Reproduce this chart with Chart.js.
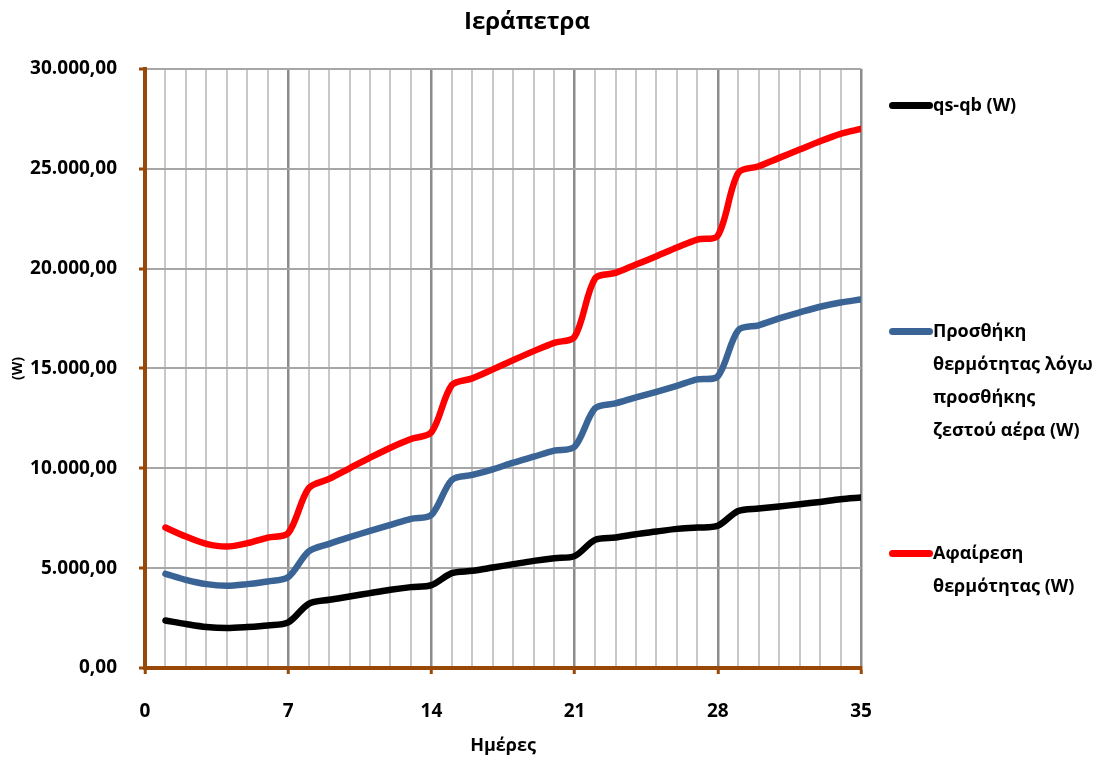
<!DOCTYPE html>
<html>
<head>
<meta charset="utf-8">
<script src="https://cdn.jsdelivr.net/npm/chart.js@4"></script>
<style>
  body { margin: 0; background: #fff; }
  #wrap { position: relative; width: 1099px; height: 762px; }
  #legend { position: absolute; left: 0; top: 0; font-family: "Open Sans", sans-serif; font-weight: bold; font-size: 18px; color: #000; }
  .item { position: absolute; left: 889px; }
  .sw { position: absolute; left: 0; top: 14px; width: 44px; height: 7px; border-radius: 3.5px; }
  .txt { position: absolute; left: 44px; top: 0; line-height: 33px; white-space: nowrap; }
</style>
</head>
<body>
<div id="wrap">
  <canvas id="chart" width="1099" height="762"></canvas>
  <div id="legend"></div>
</div>
<script>
// days on the x axis
var days = [1, 2, 3, 4, 5, 6, 7, 8, 9, 10, 11, 12, 13, 14, 15, 16, 17, 18,
            19, 20, 21, 22, 23, 24, 25, 26, 27, 28, 29, 30, 31, 32, 33, 34, 35];

// qs-qb (W)
var qsqb = [2380, 2200, 2050, 2000, 2050, 2130, 2280,
            3215, 3415, 3580, 3750, 3915, 4050, 4150,
            4750, 4865, 5030, 5200, 5365, 5500, 5600,
            6415, 6530, 6700, 6830, 6965, 7030, 7120,
            7865, 7985, 8085, 8200, 8315, 8450, 8535];

// Προσθήκη θερμότητας λόγω προσθήκης ζεστού αέρα (W)
var hotAir = [4715, 4415, 4200, 4115, 4200, 4330, 4550,
              5830, 6215, 6550, 6865, 7165, 7465, 7665,
              9415, 9665, 9950, 10280, 10580, 10880, 11080,
              13000, 13250, 13550, 13830, 14130, 14450, 14600,
              16910, 17160, 17500, 17800, 18085, 18300, 18450];

// Αφαίρεση θερμότητας (W)
var removal = [7030, 6580, 6215, 6080, 6250, 6530, 6750,
               9000, 9465, 10000, 10530, 11030, 11465, 11800,
               14165, 14500, 14950, 15415, 15865, 16280, 16580,
               19500, 19780, 20200, 20615, 21050, 21450, 21650,
               24785, 25120, 25540, 25955, 26375, 26745, 26995];

var seriesNames = [
    ['qs-qb (W)'],
    ['Προσθήκη', 'θερμότητας λόγω', 'προσθήκης', 'ζεστού αέρα (W)'],
    ['Αφαίρεση', 'θερμότητας (W)']
];
var seriesColors = ['#000000', '#3a6496', '#ff0000'];
var legendTops = [88, 314, 536];

var brown = '#984807';
var tickFont = { family: 'Open Sans', weight: 'bold', size: 19 };

function toPoints(xs, ys) {
    return xs.map((x, i) => ({ x: x, y: ys[i] }));
}

function fmtValue(v) {
    let s = Math.round(v).toString().replace(/\B(?=(\d{3})+(?!\d))/g, '.');
    return s + ',00';
}

const ctx = document.getElementById('chart');
const allSeries = [qsqb, hotAir, removal];

new Chart(ctx, {
    type: 'line',
    data: {
        datasets: allSeries.map((ys, i) => ({
            label: seriesNames[i].join(' '),
            data: toPoints(days, ys),
            borderColor: seriesColors[i],
            borderWidth: 6.5,
            pointRadius: 0,
            tension: 0.3,
            fill: false,
            borderCapStyle: 'round',
            borderJoinStyle: 'round'
        }))
    },
    options: {
        responsive: false,
        animation: false,
        layout: { padding: { top: 0, left: 0, right: 45, bottom: 0 } },
        scales: {
            x: {
                type: 'linear',
                min: 0,
                max: 35,
                afterFit: function(scale) { scale.height = 94; },
                ticks: {
                    stepSize: 1,
                    autoSkip: false,
                    maxRotation: 0,
                    padding: 26,
                    color: '#000',
                    font: tickFont,
                    callback: function(v) { return v % 7 === 0 ? String(v) : ''; }
                },
                grid: {
                    color: c => (c.tick && c.tick.value % 7 === 0) ? '#8c8c8c' : '#c8c8c8',
                    lineWidth: c => (c.tick && c.tick.value % 7 === 0) ? 2.5 : 2,
                    tickColor: c => (c.tick && c.tick.value % 7 === 0) ? brown : 'rgba(0,0,0,0)',
                    tickLength: 6,
                    tickWidth: 3
                },
                border: { color: brown, width: 4 },
                title: {
                    display: true,
                    text: 'Ημέρες',
                    color: '#000',
                    font: { family: 'Open Sans', weight: 'bold', size: 18 },
                    padding: { top: 0, bottom: 5 }
                }
            },
            y: {
                min: 0,
                max: 30000,
                afterFit: function(scale) { scale.width = 145; },
                ticks: {
                    stepSize: 5000,
                    padding: 22,
                    color: '#000',
                    font: tickFont,
                    callback: function(v) { return fmtValue(v); }
                },
                grid: {
                    color: '#a6a6a6',
                    lineWidth: 2,
                    tickColor: brown,
                    tickLength: 6,
                    tickWidth: 3
                },
                border: { color: brown, width: 4 },
                title: {
                    display: true,
                    text: '(W)',
                    color: '#000',
                    font: { family: 'Open Sans', weight: 'bold', size: 14 },
                    padding: { top: 10, bottom: 0 }
                }
            },
            // empty right-hand box: keeps room for the legend
            side: {
                type: 'linear',
                position: 'right',
                display: true,
                afterFit: function(scale) { scale.width = 193; },
                ticks: { display: false },
                grid: { display: false, drawTicks: false },
                border: { display: false }
            }
        },
        plugins: {
            legend: { display: false },
            tooltip: { enabled: false },
            title: {
                display: true,
                text: 'Ιεράπετρα',
                color: '#000',
                font: { family: 'Open Sans', weight: 'bold', size: 24 },
                padding: { top: 8, bottom: 32 }
            }
        }
    }
});

// legend on the right, with wrapped labels
var legend = document.getElementById('legend');
seriesNames.forEach(function(lines, i) {
    let item = document.createElement('div');
    item.className = 'item';
    item.style.top = legendTops[i] + 'px';
    let sw = document.createElement('div');
    sw.className = 'sw';
    sw.style.background = seriesColors[i];
    let txt = document.createElement('div');
    txt.className = 'txt';
    txt.innerHTML = lines.join('<br>');
    item.appendChild(sw);
    item.appendChild(txt);
    legend.appendChild(item);
});
</script>
</body>
</html>
